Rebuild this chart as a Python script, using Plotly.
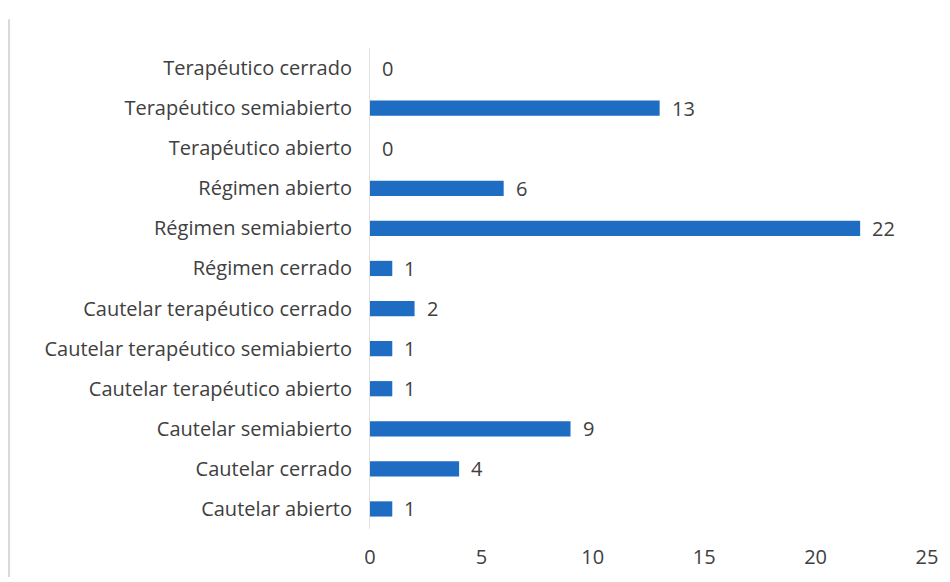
import plotly.graph_objects as go

categories = [
    "Cautelar abierto",
    "Cautelar cerrado",
    "Cautelar semiabierto",
    "Cautelar terapéutico abierto",
    "Cautelar terapéutico semiabierto",
    "Cautelar terapéutico cerrado",
    "Régimen cerrado",
    "Régimen semiabierto",
    "Régimen abierto",
    "Terapéutico abierto",
    "Terapéutico semiabierto",
    "Terapéutico cerrado",
]
values = [1, 4, 9, 1, 1, 2, 1, 22, 6, 0, 13, 0]
x_ticks = [0, 5, 10, 15, 20, 25]

BAR = "#1f6dc2"
TEXT = "#404040"
FONT = "Open Sans"
SIZE = 20

fig = go.Figure(
    go.Bar(
        x=values,
        y=categories,
        orientation="h",
        marker=dict(color=BAR, line=dict(width=0)),
        width=0.38,
        hoverinfo="x+y",
    )
)

for cat, val in zip(categories, values):
    fig.add_annotation(
        x=val, y=cat, text=str(val), showarrow=False,
        xanchor="left", xshift=10,
        font=dict(family=FONT, size=SIZE, color=TEXT),
    )

# faint scan edge on the left
fig.add_shape(
    type="line", xref="paper", yref="paper",
    x0=-0.648, x1=-0.648, y0=-0.1, y1=1.06,
    line=dict(color="#d8d8d8", width=2),
)

# page is drawn with an 8px body offset, so the figure is 8px smaller
fig.update_layout(
    width=942,
    height=574,
    margin=dict(l=362, r=15, t=40, b=51),
    paper_bgcolor="white",
    plot_bgcolor="white",
    showlegend=False,
    font=dict(family=FONT, size=SIZE, color=TEXT),
)
fig.update_xaxes(
    range=[0, 25],
    tickvals=x_ticks,
    showgrid=False,
    zeroline=False,
    showline=False,
    ticks="",
    ticklabelstandoff=14,
    tickfont=dict(family=FONT, size=SIZE, color=TEXT),
)
fig.update_yaxes(
    categoryorder="array",
    categoryarray=categories,
    showgrid=False,
    zeroline=False,
    showline=True,
    linecolor="#e0e0e0",
    linewidth=1,
    ticks="",
    ticklabelstandoff=13,
    tickfont=dict(family=FONT, size=SIZE, color=TEXT),
)

fig.write_html("out.html")
